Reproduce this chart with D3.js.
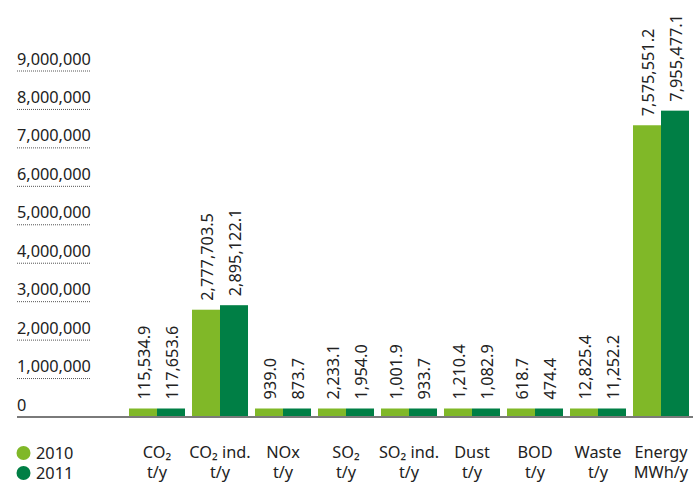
<!DOCTYPE html>
<html>
<head>
<meta charset="utf-8">
<script src="https://cdn.jsdelivr.net/npm/d3@7"></script>
<style>
  body { margin: 0; background: #fff; }
  svg { display: block; font-family: "Noto Sans", sans-serif; }
</style>
</head>
<body>
<svg width="693" height="482"></svg>
<script>
// chart data
var categories = ["CO₂|t/y", "CO₂ ind.|t/y", "NOx|t/y", "SO₂|t/y", "SO₂ ind.|t/y", "Dust|t/y", "BOD|t/y", "Waste|t/y", "Energy|MWh/y"];
var years = ["2010", "2011"];
var values2010 = [115534.9, 2777703.5, 939.0, 2233.1, 1001.9, 1210.4, 618.7, 12825.4, 7575551.2];
var values2011 = [117653.6, 2895122.1, 873.7, 1954.0, 933.7, 1082.9, 474.4, 11252.2, 7955477.1];
var tickValues = [0, 1000000, 2000000, 3000000, 4000000, 5000000, 6000000, 7000000, 8000000, 9000000];

var COLORS = ["#80b828", "#007f45"];
var MIN_BAR = 8;
var FONT = 16.3;

var svg = d3.select("svg");

var x = d3.scaleBand()
    .domain(categories)
    .range([125.5, 692.5])
    .paddingInner(0.111)
    .paddingOuter(0.0555);

var xInner = d3.scaleBand()
    .domain(years)
    .range([0, x.bandwidth()]);

var y = d3.scaleLinear()
    .domain([0, 9000000])
    .range([416.5, 70.5]);

var fmt = d3.format(",.1f");

//y tick labels with dotted underline
var ticks = svg.append("g");
tickValues.forEach(function(v) {
    ticks.append("text")
        .attr("x", 17)
        .attr("y", y(v) - 6)
        .attr("font-size", FONT)
        .attr("fill", "#222")
        .text(d3.format(",")(v));
    if (v > 0) {
        ticks.append("line")
            .attr("x1", 17)
            .attr("x2", 91)
            .attr("y1", y(v) + 0.5)
            .attr("y2", y(v) + 0.5)
            .style("stroke", "#555")
            .style("stroke-width", "1px")
            .style("stroke-dasharray", "1,1");
    }
});

//bars
var series = [values2010, values2011];
series.forEach(function(vals, s) {
    var g = svg.append("g");
    vals.forEach(function(v, i) {
        var cx = x(categories[i]) + xInner(years[s]);
        var top = Math.min(y(v), y(0) - MIN_BAR);
        g.append("rect")
            .attr("x", cx)
            .attr("y", top)
            .attr("width", xInner.bandwidth())
            .attr("height", y(0) - top)
            .style("fill", COLORS[s]);
        g.append("text")
            .attr("transform", "translate(" + (cx + xInner.bandwidth() / 2 + 1) + "," + (top - 9) + ") rotate(-90)")
            .attr("dy", "0.35em")
            .attr("font-size", FONT)
            .attr("fill", "#222")
            .text(fmt(v));
    });
});

//baseline
svg.append("line")
    .attr("x1", 17)
    .attr("x2", 693)
    .attr("y1", y(0) + 0.5)
    .attr("y2", y(0) + 0.5)
    .style("stroke", "#7a7a7a")
    .style("stroke-width", "2px");

//category labels
categories.forEach(function(c) {
    var parts = c.split("|");
    var cx = x(c) + x.bandwidth() / 2;
    var t = svg.append("text")
        .attr("text-anchor", "middle")
        .attr("font-size", FONT)
        .attr("fill", "#222");
    t.append("tspan").attr("x", cx).attr("y", 458).text(parts[0]);
    t.append("tspan").attr("x", cx).attr("y", 478).text(parts[1]);
});

//legend
years.forEach(function(yr, i) {
    svg.append("circle")
        .attr("cx", 23.5)
        .attr("cy", 453 + i * 20)
        .attr("r", 7)
        .style("fill", COLORS[i]);
    svg.append("text")
        .attr("x", 36)
        .attr("y", 458.5 + i * 20)
        .attr("font-size", FONT)
        .attr("fill", "#222")
        .text(yr);
});
</script>
</body>
</html>
